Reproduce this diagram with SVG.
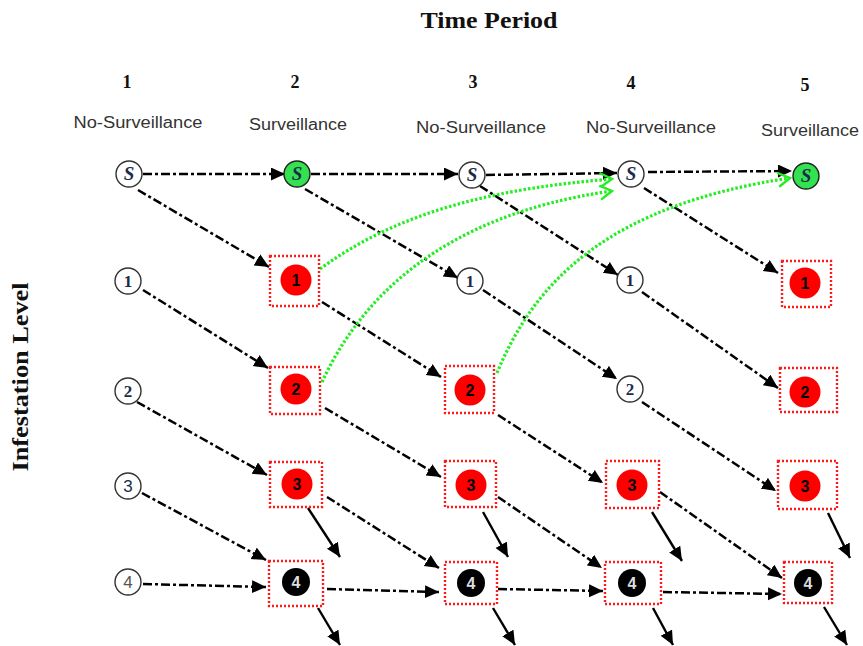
<svg xmlns="http://www.w3.org/2000/svg" width="863" height="646" viewBox="0 0 863 646">
<defs>
<marker id="ah" markerUnits="userSpaceOnUse" markerWidth="16" markerHeight="14" refX="14" refY="6.5" orient="auto">
<path d="M0,0 L14,6.5 L0,13 z" fill="#000"/>
</marker>
<marker id="gh" markerUnits="userSpaceOnUse" markerWidth="16" markerHeight="16" refX="13" refY="8" orient="auto">
<path d="M1,1 L13,8 L1,15" fill="none" stroke="#22ee22" stroke-width="2.4"/>
</marker>
<style>
.title{font-family:"Liberation Serif",serif;font-weight:bold;fill:#111}
.num{font-family:"Liberation Serif",serif;font-weight:bold;font-size:18px;fill:#111;text-anchor:middle}
.lab{font-family:"Liberation Sans",Arial,sans-serif;font-size:16px;fill:#333;text-anchor:middle}
.wc{fill:#fff;stroke:#333;stroke-width:1.4}
.gc{fill:#33e250;stroke:#222;stroke-width:1.4}
.rc{fill:#ff0000}
.bc{fill:#000}
.box{fill:none;stroke:#ff1a1a;stroke-width:2.4;stroke-dasharray:2 2}
.wt{font-family:"Liberation Serif",serif;font-weight:bold;font-size:17px;fill:#1c2c48;text-anchor:middle}
.st{font-family:"Liberation Serif",serif;font-style:italic;font-weight:bold;font-size:19px;fill:#1c2c48;text-anchor:middle}
.rt{font-family:"Liberation Sans",Arial,sans-serif;font-weight:bold;font-size:16px;fill:#000;text-anchor:middle}
.bt{font-family:"Liberation Sans",Arial,sans-serif;font-weight:bold;font-size:16px;fill:#ddd;text-anchor:middle}
.dd{fill:none;stroke:#000;stroke-width:2.5;stroke-dasharray:9 3 3 3;marker-end:url(#ah)}
.sl{fill:none;stroke:#000;stroke-width:2.4;marker-end:url(#ah)}
.gr{fill:none;stroke:#22ee22;stroke-width:3.2;stroke-dasharray:2.5 2;marker-end:url(#gh)}
</style>
</defs>
<rect width="863" height="646" fill="#fff"/>

<g id="headers">
<text class="title" x="489" y="28" font-size="24" text-anchor="middle" textLength="137" lengthAdjust="spacingAndGlyphs">Time Period</text>
<text class="title" font-size="24" text-anchor="middle" transform="translate(28,377) rotate(-90)" textLength="189" lengthAdjust="spacingAndGlyphs">Infestation Level</text>
<text class="num" x="127" y="88">1</text>
<text class="num" x="295" y="88">2</text>
<text class="num" x="473" y="88">3</text>
<text class="num" x="631" y="89">4</text>
<text class="num" x="805" y="91">5</text>
<text class="lab" x="138" y="128" textLength="129" lengthAdjust="spacingAndGlyphs">No-Surveillance</text>
<text class="lab" x="298" y="130" textLength="98" lengthAdjust="spacingAndGlyphs">Surveillance</text>
<text class="lab" x="481" y="133" textLength="130" lengthAdjust="spacingAndGlyphs">No-Surveillance</text>
<text class="lab" x="651" y="133" textLength="130" lengthAdjust="spacingAndGlyphs">No-Surveillance</text>
<text class="lab" x="810" y="136" textLength="98" lengthAdjust="spacingAndGlyphs">Surveillance</text>
</g>

<g id="connectors">
<line class="dd" x1="143" y1="174" x2="285" y2="174"/>
<line class="dd" x1="311" y1="174" x2="458" y2="174"/>
<line class="dd" x1="486" y1="175" x2="617" y2="173"/>
<line class="dd" x1="648" y1="172" x2="792" y2="171"/>
<line class="dd" x1="138" y1="190" x2="269" y2="267"/>
<line class="dd" x1="305" y1="189" x2="458" y2="278"/>
<line class="dd" x1="480" y1="186" x2="618" y2="275"/>
<line class="dd" x1="644" y1="188" x2="778" y2="273"/>
<line class="dd" x1="143" y1="290" x2="268" y2="368"/>
<line class="dd" x1="322" y1="302" x2="441" y2="377"/>
<line class="dd" x1="483" y1="290" x2="617" y2="379"/>
<line class="dd" x1="642" y1="292" x2="778" y2="388"/>
<line class="dd" x1="137" y1="402" x2="267" y2="475"/>
<line class="dd" x1="325" y1="408" x2="441" y2="477"/>
<line class="dd" x1="498" y1="415" x2="603" y2="483"/>
<line class="dd" x1="642" y1="402" x2="776" y2="491"/>
<line class="dd" x1="142" y1="493" x2="266" y2="560"/>
<line class="dd" x1="327" y1="497" x2="439" y2="568"/>
<line class="dd" x1="498" y1="497" x2="602" y2="568"/>
<line class="dd" x1="660" y1="492" x2="782" y2="578"/>
<line class="dd" x1="143" y1="584" x2="266" y2="587"/>
<line class="dd" x1="327" y1="589" x2="439" y2="592"/>
<line class="dd" x1="498" y1="589" x2="603" y2="591"/>
<line class="dd" x1="663" y1="592" x2="782" y2="594"/>
<line class="sl" x1="308" y1="508" x2="340" y2="557"/>
<line class="sl" x1="483" y1="512" x2="508" y2="557"/>
<line class="sl" x1="652" y1="512" x2="682" y2="561"/>
<line class="sl" x1="828" y1="513" x2="850" y2="558"/>
<line class="sl" x1="318" y1="608" x2="340" y2="645"/>
<line class="sl" x1="493" y1="608" x2="515" y2="645"/>
<line class="sl" x1="653" y1="608" x2="673" y2="645"/>
<line class="sl" x1="824" y1="607" x2="847" y2="645"/>
<path class="gr" d="M320,269 C400,210 500,188 612,179"/>
<path class="gr" d="M322,382 C360,300 440,215 612,191"/>
<path class="gr" d="M497,373 C535,280 610,205 790,178"/>
</g>

<g id="n-S1"><circle class="wc" cx="129" cy="174" r="13"/><text class="st" x="129" y="180">S</text></g>
<g id="n-S2"><circle class="gc" cx="297" cy="174" r="13"/><text class="st" x="297" y="180">S</text></g>
<g id="n-S3"><circle class="wc" cx="472" cy="175" r="13"/><text class="st" x="472" y="181">S</text></g>
<g id="n-S4"><circle class="wc" cx="631" cy="174" r="13"/><text class="st" x="631" y="180">S</text></g>
<g id="n-S5"><circle class="gc" cx="806" cy="176" r="13"/><text class="st" x="806" y="182">S</text></g>

<g id="n-1-1"><circle class="wc" cx="128" cy="281" r="13"/><text class="wt" x="128" y="287">1</text></g>
<g id="n-1-2"><circle class="wc" cx="128" cy="391" r="13"/><text class="wt" x="128" y="397">2</text></g>
<g id="n-1-3"><circle class="wc" cx="128" cy="486" r="13"/><text class="rt" x="128" y="492" style="fill:#1c2c48;font-weight:normal;font-size:17px">3</text></g>
<g id="n-1-4"><circle class="wc" cx="128" cy="582" r="13"/><text class="rt" x="128" y="588" style="fill:#555;font-weight:normal;font-size:17px">4</text></g>

<g id="n-2-1"><rect class="box" x="270" y="256" width="49" height="50"/><circle class="rc" cx="296" cy="280" r="15.5"/><text class="rt" x="296" y="286">1</text></g>
<g id="n-2-2"><rect class="box" x="270" y="367" width="50" height="47"/><circle class="rc" cx="296" cy="389" r="15.5"/><text class="rt" x="296" y="395">2</text></g>
<g id="n-2-3"><rect class="box" x="270" y="462" width="52" height="45"/><circle class="rc" cx="297" cy="484" r="15.5"/><text class="rt" x="297" y="490">3</text></g>
<g id="n-2-4"><rect class="box" x="269" y="561" width="54" height="45"/><circle class="bc" cx="296" cy="582" r="14"/><text class="bt" x="296" y="588">4</text></g>

<g id="n-3-1"><circle class="wc" cx="470" cy="281" r="13"/><text class="wt" x="470" y="287">1</text></g>
<g id="n-3-2"><rect class="box" x="445" y="366" width="49" height="47"/><circle class="rc" cx="470" cy="390" r="15.5"/><text class="rt" x="470" y="396">2</text></g>
<g id="n-3-3"><rect class="box" x="445" y="461" width="51" height="46"/><circle class="rc" cx="471" cy="485" r="15.5"/><text class="rt" x="471" y="491">3</text></g>
<g id="n-3-4"><rect class="box" x="445" y="562" width="52" height="42"/><circle class="bc" cx="471" cy="583" r="14"/><text class="bt" x="471" y="589">4</text></g>

<g id="n-4-1"><circle class="wc" cx="630" cy="280" r="13"/><text class="wt" x="630" y="286">1</text></g>
<g id="n-4-2"><circle class="wc" cx="630" cy="389" r="13"/><text class="wt" x="630" y="395">2</text></g>
<g id="n-4-3"><rect class="box" x="606" y="461" width="53" height="47"/><circle class="rc" cx="632" cy="485" r="15.5"/><text class="rt" x="632" y="491">3</text></g>
<g id="n-4-4"><rect class="box" x="605" y="562" width="56" height="42"/><circle class="bc" cx="632" cy="583" r="14"/><text class="bt" x="632" y="589">4</text></g>

<g id="n-5-1"><rect class="box" x="782" y="261" width="49" height="46"/><circle class="rc" cx="805" cy="283" r="15.5"/><text class="rt" x="805" y="289">1</text></g>
<g id="n-5-2"><rect class="box" x="780" y="368" width="57" height="44"/><circle class="rc" cx="805" cy="392" r="15.5"/><text class="rt" x="805" y="398">2</text></g>
<g id="n-5-3"><rect class="box" x="778" y="461" width="59" height="48"/><circle class="rc" cx="805" cy="486" r="15.5"/><text class="rt" x="805" y="492">3</text></g>
<g id="n-5-4"><rect class="box" x="784" y="562" width="48" height="41"/><circle class="bc" cx="808" cy="583" r="14"/><text class="bt" x="808" y="589">4</text></g>
</svg>
